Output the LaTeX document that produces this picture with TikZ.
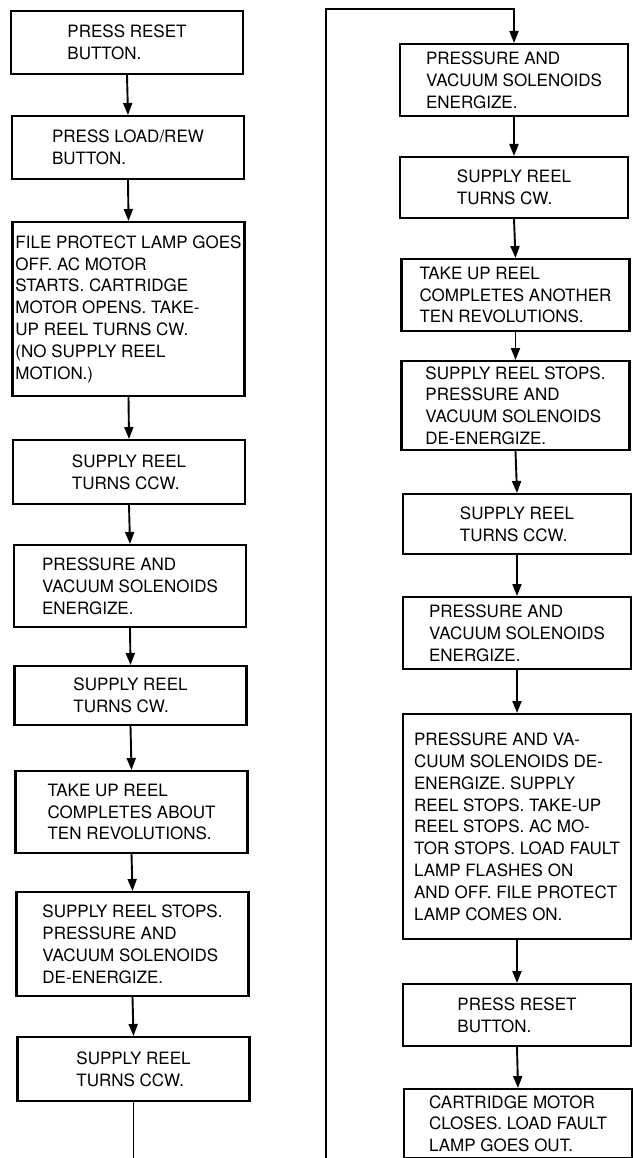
\documentclass[tikz,border=0pt]{standalone}
\usepackage{fontspec}
\setmainfont{TeX Gyre Heros}
\usepackage{tikz}
\usetikzlibrary{positioning,arrows.meta}

\begin{document}
\begin{tikzpicture}[
  x=1pt, y=-1pt,
  flowbox/.style={
    draw, anchor=north, align=left, inner sep=2pt,
    font=\fontsize{17}{21.8}\selectfont, line width=2.2pt
  },
  leftbox/.style={flowbox, minimum width=232pt},
  rightbox/.style={flowbox, minimum width=228pt},
  flowarrow/.style={-{Triangle[length=12pt,width=9pt]}, line width=1.9pt}
]
\useasboundingbox (0,0) rectangle (632,1158);

% left column
\node[leftbox, minimum height=63pt]  (b1) at (127,10)   {PRESS RESET\\BUTTON.};
\node[leftbox, minimum height=63pt]  (b2) at (128,115)  {PRESS LOAD/REW\\BUTTON.};
\node[leftbox, minimum height=174pt] (b3) at (128.5,221) {FILE PROTECT LAMP GOES\\OFF. AC MOTOR\\STARTS. CARTRIDGE\\MOTOR OPENS. TAKE-\\UP REEL TURNS CW.\\(NO SUPPLY REEL\\MOTION.)};
\node[leftbox, minimum height=64pt]  (b4) at (129,439)  {SUPPLY REEL\\TURNS CCW.};
\node[leftbox, minimum height=82pt]  (b5) at (130,544)  {PRESSURE AND\\VACUUM SOLENOIDS\\ENERGIZE.};
\node[leftbox, minimum height=59pt]  (b6) at (130.5,665) {SUPPLY REEL\\TURNS CW.};
\node[leftbox, minimum height=82pt]  (b7) at (131.5,770) {TAKE UP REEL\\COMPLETES ABOUT\\TEN REVOLUTIONS.};
\node[leftbox, minimum height=104pt] (b8) at (132.5,891) {SUPPLY REEL STOPS.\\PRESSURE AND\\VACUUM SOLENOIDS\\DE-ENERGIZE.};
\node[leftbox, minimum height=64pt]  (b9) at (133.5,1036) {SUPPLY REEL\\TURNS CCW.};

% right column
\node[rightbox, minimum height=72pt]  (r1) at (514,43)   {PRESSURE AND\\VACUUM SOLENOIDS\\ENERGIZE.};
\node[rightbox, minimum height=61pt]  (r2) at (514,156)  {SUPPLY REEL\\TURNS CW.};
\node[rightbox, minimum height=72pt]  (r3) at (515.5,258) {TAKE UP REEL\\COMPLETES ANOTHER\\TEN REVOLUTIONS.};
\node[rightbox, minimum height=89pt]  (r4) at (515.5,360) {SUPPLY REEL STOPS.\\PRESSURE AND\\VACUUM SOLENOIDS\\DE-ENERGIZE.};
\node[rightbox, minimum height=60pt]  (r5) at (517,493)  {SUPPLY REEL\\TURNS CCW.};
\node[rightbox, minimum height=72pt]  (r6) at (517,596)  {PRESSURE AND\\VACUUM SOLENOIDS\\ENERGIZE.};
\node[rightbox, minimum height=225pt] (r7) at (517,713)  {PRESSURE AND VA-\\CUUM SOLENOIDS DE-\\ENERGIZE. SUPPLY\\REEL STOPS. TAKE-UP\\REEL STOPS. AC MO-\\TOR STOPS. LOAD FAULT\\LAMP FLASHES ON\\AND OFF. FILE PROTECT\\LAMP COMES ON.};
\node[rightbox, minimum height=62pt]  (r8) at (517,983)  {PRESS RESET\\BUTTON.};
\node[rightbox, minimum height=69pt]  (r9) at (518,1088) {CARTRIDGE MOTOR\\CLOSES. LOAD FAULT\\LAMP GOES OUT.};

% off-page ends of the loop
\coordinate (leftend) at (133.5,1158);
\coordinate (loopup) at (326,1158);
\coordinate (looptop) at (326,9);

% connectors
\foreach \a/\b in {b1/b2,b2/b3,b3/b4,b4/b5,b5/b6,b6/b7,b7/b8,b8/b9,
                   r1/r2,r2/r3,r3/r4,r4/r5,r5/r6,r6/r7,r7/r8,r8/r9}
  \draw[flowarrow] (\a.south) -- (\b.north);
\draw[line width=1.9pt] (b9.south) -- (leftend);
\draw[flowarrow] (loopup) -- (looptop) -| (r1.north);
\end{tikzpicture}
\end{document}
